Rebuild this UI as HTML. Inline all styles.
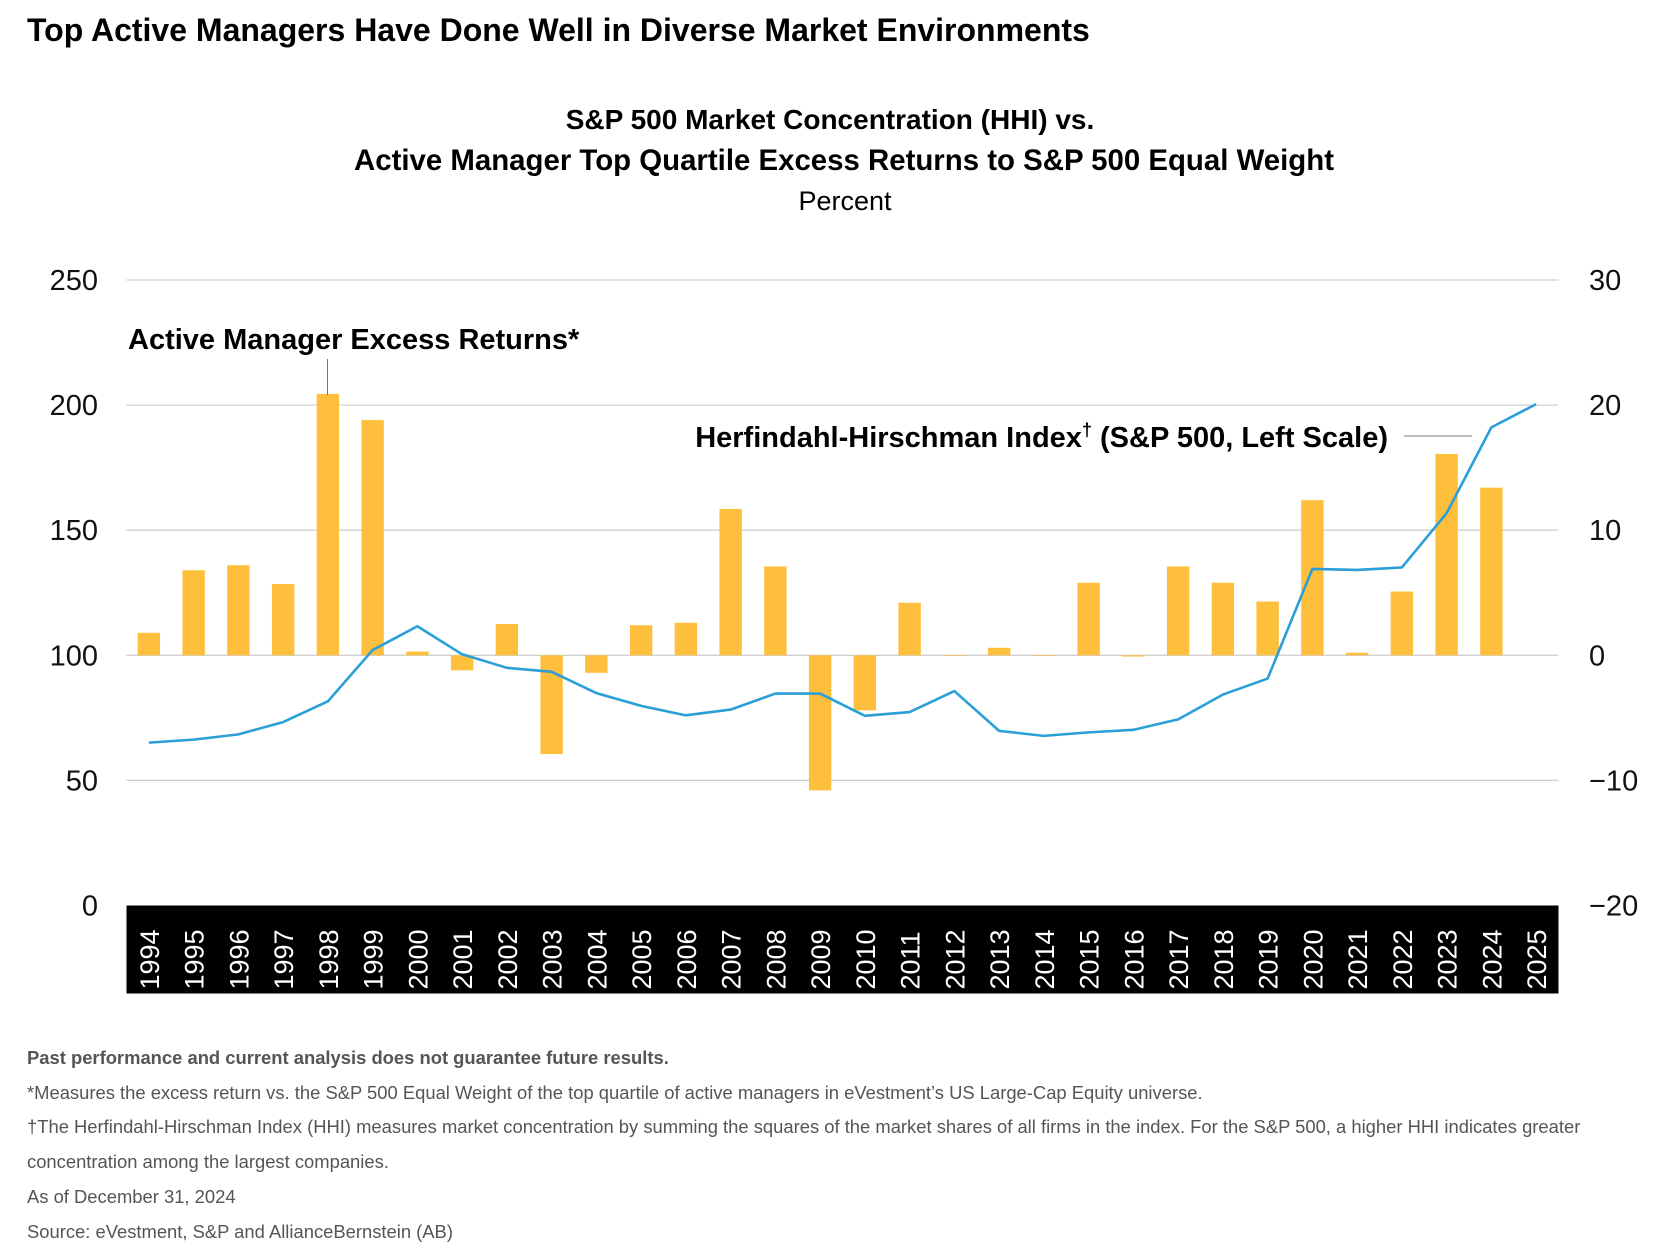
<!DOCTYPE html>
<html><head><meta charset="utf-8"><style>
body{margin:0;background:#fff;font-family:"Liberation Sans",Arial,sans-serif}
svg{display:block}
</style></head><body>
<svg id="chart" width="1668" height="1260" viewBox="0 0 1668 1260">
<text x="27" y="41" font-size="32" font-weight="bold" fill="#000">Top Active Managers Have Done Well in Diverse Market Environments</text>
<text x="830" y="129" font-size="28" font-weight="bold" text-anchor="middle">S&amp;P 500 Market Concentration (HHI) vs.</text>
<text x="844" y="170" font-size="29.4" font-weight="bold" text-anchor="middle">Active Manager Top Quartile Excess Returns to S&amp;P 500 Equal Weight</text>
<text x="845" y="210" font-size="27" text-anchor="middle">Percent</text>
<g id="grid"></g><g id="bars"></g><g id="line"></g><g id="axes"></g>
<text x="128" y="349" font-size="29" font-weight="bold">Active Manager Excess Returns*</text>
<line x1="327.5" y1="359" x2="327.5" y2="395" stroke="#777" stroke-width="1"/>
<text x="1388" y="447" font-size="29" font-weight="bold" text-anchor="end">Herfindahl-Hirschman Index<tspan font-size="18" dy="-11">†</tspan><tspan dy="11"> (S&amp;P 500, Left Scale)</tspan></text>
<line x1="1404" y1="436" x2="1472" y2="436" stroke="#777" stroke-width="1"/>
<g font-size="18.4" fill="#555">
<text x="27" y="1064" font-weight="bold">Past performance and current analysis does not guarantee future results.</text>
<text x="27" y="1099">*Measures the excess return vs. the S&amp;P 500 Equal Weight of the top quartile of active managers in eVestment’s US Large-Cap Equity universe.</text>
<text x="27" y="1133">†The Herfindahl-Hirschman Index (HHI) measures market concentration by summing the squares of the market shares of all firms in the index. For the S&amp;P 500, a higher HHI indicates greater</text>
<text x="27" y="1168">concentration among the largest companies.</text>
<text x="27" y="1203">As of December 31, 2024</text>
<text x="27" y="1238">Source: eVestment, S&amp;P and AllianceBernstein (AB)</text>
</g>
</svg>
<script>
const years=[1994,1995,1996,1997,1998,1999,2000,2001,2002,2003,2004,2005,2006,2007,2008,2009,2010,2011,2012,2013,2014,2015,2016,2017,2018,2019,2020,2021,2022,2023,2024,2025];
const excessReturns=[1.8,6.8,7.2,5.7,20.9,18.8,0.3,-1.2,2.5,-7.9,-1.4,2.4,2.6,11.7,7.1,-10.8,-4.4,4.2,0,0.6,-0.05,5.8,-0.1,7.1,5.8,4.3,12.4,0.2,5.1,16.1,13.4,null];
const hhi=[65.1,66.3,68.4,73.3,81.6,102.1,111.6,100.4,95,93.4,84.9,79.8,76,78.3,84.7,84.7,75.8,77.3,85.7,69.8,67.8,69.2,70.2,74.4,84.3,90.7,134.5,134.1,135.1,156.8,191.1,200.4];
const leftTicks=[0,50,100,150,200,250];
const rightTicks=[-20,-10,0,10,20,30];
const NS="http://www.w3.org/2000/svg";
const X0=126.5,X1=1558.5,Y0=905.5,Y250=280;
const band=(X1-X0)/years.length;
const xc=i=>X0+band*(i+0.5);
const yL=v=>Y0-(v/250)*(Y0-Y250);
const yR=v=>yL(v*5+100);
function mk(tag,attrs,parent){const e=document.createElementNS(NS,tag);for(const k in attrs)e.setAttribute(k,attrs[k]);parent.appendChild(e);return e;}
const grid=document.getElementById('grid'),bars=document.getElementById('bars'),line=document.getElementById('line'),axes=document.getElementById('axes');
leftTicks.forEach(t=>{
  if(t>0){const g=mk('line',{x1:X0,x2:X1,y1:yL(t),y2:yL(t),stroke:'#d0d0d0','stroke-width':1.3},grid);
  
  }
  const l=mk('text',{x:98,y:yL(t)+10,'font-size':29,'text-anchor':'end',fill:'#111'},axes);
  l.textContent=t;
  
  
});
rightTicks.forEach(t=>{
  const l=mk('text',{x:1589,y:yR(t)+10,'font-size':29,fill:'#111'},axes);
  l.textContent=t<0?'\u2212'+Math.abs(t):t;
  
  
});
const bw=band*0.5;
excessReturns.forEach((v,i)=>{
  if(v===null)return;
  const y1=yR(Math.max(v,0)),y2=yR(Math.min(v,0));
  const r=mk('rect',{x:xc(i)-bw/2,y:y1,width:bw,height:Math.max(y2-y1,0.6),fill:'#fdbf3c'},bars);
  
  
});
const p=mk('polyline',{points:hhi.map((v,i)=>xc(i)+','+yL(v)).join(' '),fill:'none',stroke:'#2a9fd8','stroke-width':2.6,'stroke-linejoin':'round'},line);


const bandRect=mk('rect',{x:X0,y:Y0,width:X1-X0,height:88,fill:'#000'},axes);


years.forEach((yr,i)=>{
  const t=mk('text',{x:0,y:0,'font-size':27,fill:'#fff',transform:`translate(${xc(i)+10},${Y0+84}) rotate(-90)`},axes);
  t.textContent=yr;
  
  
});
</script>
</body></html>
